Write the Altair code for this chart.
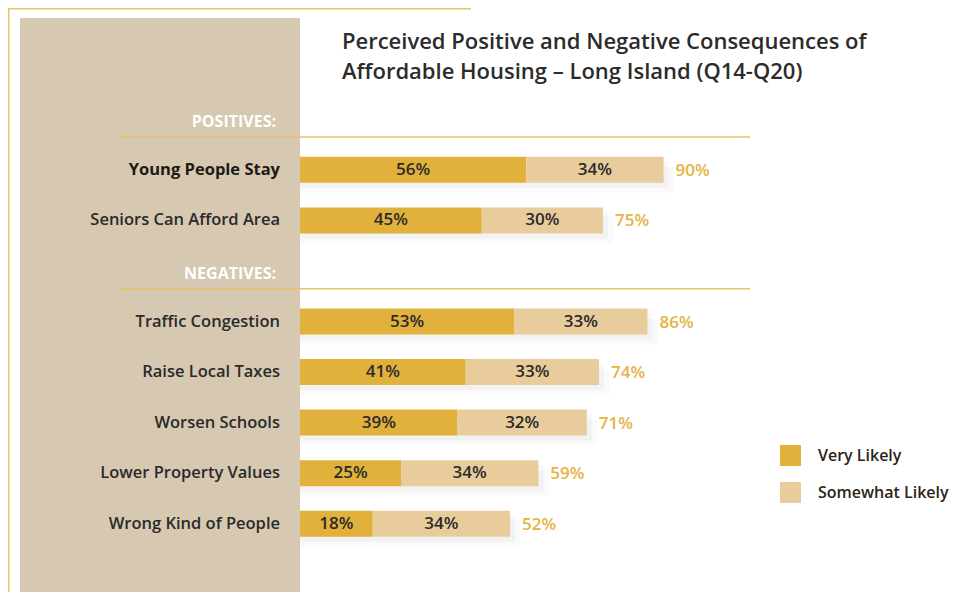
import altair as alt
import pandas as pd

categories = ["Young People Stay", "Seniors Can Afford Area", "Traffic Congestion",
              "Raise Local Taxes", "Worsen Schools", "Lower Property Values",
              "Wrong Kind of People"]
very_likely = [56, 45, 53, 41, 39, 25, 18]
somewhat_likely = [34, 30, 33, 33, 32, 34, 34]
totals = [90, 75, 86, 74, 71, 59, 52]
sections = ["POSITIVES:", "NEGATIVES:"]
row_order = ["POSITIVES:", "Young People Stay", "Seniors Can Afford Area", "NEGATIVES:",
             "Traffic Congestion", "Raise Local Taxes", "Worsen Schools",
             "Lower Property Values", "Wrong Kind of People"]
series = ["Very Likely", "Somewhat Likely"]
title_lines = ["Perceived Positive and Negative Consequences of",
               "Affordable Housing – Long Island (Q14-Q20)"]

GOLD = "#E2B13C"
TAN = "#E9CC9B"
PANEL = "#D6C8B1"
LINE = "#E6C36C"
TXT = "#2a2a2a"
FONT = "Open Sans"

seg_rows = []
for c, v, s in zip(categories, very_likely, somewhat_likely):
    seg_rows.append({"row": c, "series": series[0], "start": 0, "end": v,
                     "mid": v / 2, "label": f"{v}%"})
    seg_rows.append({"row": c, "series": series[1], "start": v, "end": v + s,
                     "mid": v + s / 2, "label": f"{s}%"})
seg_df = pd.DataFrame(seg_rows)
tot_df = pd.DataFrame({"row": categories, "zero": [0] * len(categories), "total": totals,
                       "tlabel": [f"{t}%" for t in totals]})
cat_df = pd.DataFrame({"row": categories})
sec_df = pd.DataFrame({"row": sections})
one = pd.DataFrame({"a": [0]})

yscale = alt.Scale(domain=row_order, range=[86, 541], paddingInner=0, paddingOuter=0)
xscale = alt.Scale(domain=[0, 100], range=[292, 696])
Y = alt.Y("row:N", scale=yscale, axis=None)

panel = alt.Chart(one).mark_rect(color=PANEL).encode(
    x=alt.value(12), x2=alt.value(292), y=alt.value(10), y2=alt.value(584))
frame_top = alt.Chart(one).mark_rule(color=LINE, strokeWidth=1.5).encode(
    x=alt.value(0), x2=alt.value(463), y=alt.value(0.75))
frame_left = alt.Chart(one).mark_rule(color=LINE, strokeWidth=1.5).encode(
    x=alt.value(0.75), y=alt.value(0), y2=alt.value(584))

title1 = alt.Chart(one).mark_text(align="left", baseline="middle", font=FONT,
                                  fontSize=22, fontWeight=600, color="#2b2b2b").encode(
    x=alt.value(334), y=alt.value(34), text=alt.value(title_lines[0]))
title2 = alt.Chart(one).mark_text(align="left", baseline="middle", font=FONT,
                                  fontSize=22, fontWeight=600, color="#2b2b2b").encode(
    x=alt.value(334), y=alt.value(64), text=alt.value(title_lines[1]))

sec_lines = alt.Chart(sec_df).mark_rule(color=LINE, strokeWidth=1.5).encode(
    y=alt.Y("row:N", scale=yscale, axis=None, bandPosition=0.85),
    x=alt.value(112), x2=alt.value(742))
sec_text = alt.Chart(sec_df).mark_text(align="right", baseline="middle", font=FONT,
                                       fontSize=16, fontWeight=700, color="white", dy=3).encode(
    y=Y, x=alt.value(268), text="row:N")

shadow1 = alt.Chart(tot_df).mark_bar(size=26, color="#7a7a7a", opacity=0.06,
                                     yOffset=5, x2Offset=5).encode(
    y=Y, x=alt.X("zero:Q", scale=xscale, axis=None), x2="total:Q")
shadow2 = alt.Chart(tot_df).mark_bar(size=26, color="#7a7a7a", opacity=0.04,
                                     yOffset=10, x2Offset=10).encode(
    y=Y, x=alt.X("zero:Q", scale=xscale, axis=None), x2="total:Q")

bars = alt.Chart(seg_df).mark_bar(size=26).encode(
    y=Y,
    x=alt.X("start:Q", scale=xscale, axis=None),
    x2="end:Q",
    color=alt.Color("series:N", scale=alt.Scale(domain=series, range=[GOLD, TAN]),
                    legend=alt.Legend(title=None, orient="none", legendX=772, legendY=437,
                                      symbolType="square", symbolSize=441,
                                      symbolStrokeWidth=0, symbolOpacity=1,
                                      labelFontSize=16, labelFont=FONT,
                                      labelFontWeight=600, labelColor="#2b2416",
                                      labelOffset=17, rowPadding=16, padding=0)),
)
inner = alt.Chart(seg_df).mark_text(align="center", baseline="middle", font=FONT,
                                    fontSize=17, fontWeight=600, color=TXT).encode(
    y=Y, x=alt.X("mid:Q", scale=xscale, axis=None), text="label:N")
tot = alt.Chart(tot_df).mark_text(align="left", baseline="middle", font=FONT, dx=12, dy=1,
                                  fontSize=17, fontWeight=600, color="#E4B444").encode(
    y=Y, x=alt.X("total:Q", scale=xscale, axis=None), text="tlabel:N")

cat_main = alt.Chart(cat_df).transform_filter(
    alt.datum.row != categories[0]).mark_text(
    align="right", baseline="middle", font=FONT, fontSize=16.5, fontWeight=600,
    color=TXT).encode(y=Y, x=alt.value(272), text="row:N")
cat_first = alt.Chart(cat_df).transform_filter(
    alt.datum.row == categories[0]).mark_text(
    align="right", baseline="middle", font=FONT, fontSize=16.5, fontWeight=700,
    color="#1e1a14").encode(y=Y, x=alt.value(272), text="row:N")

chart = alt.layer(panel, frame_top, frame_left, title1, title2, sec_lines, sec_text,
                  shadow2, shadow1, bars, inner, tot, cat_main, cat_first).properties(
    width=941, height=584, padding=0,
    autosize=alt.AutoSizeParams(type="none"), background="white",
).configure_view(stroke=None)

chart.save("out.html", embed_options={"renderer": "svg", "actions": False})
